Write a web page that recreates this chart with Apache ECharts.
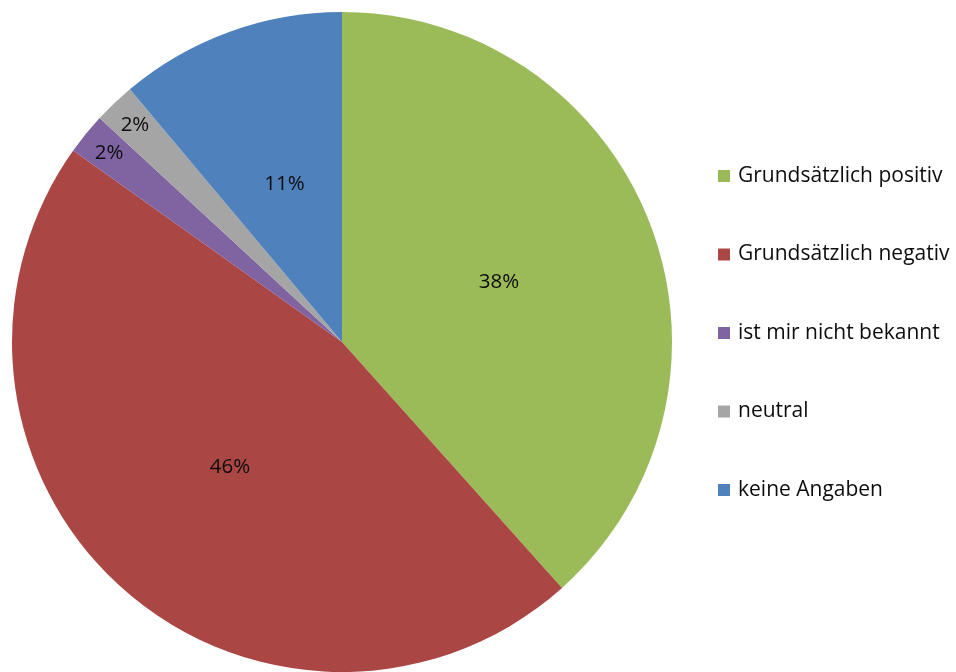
<!DOCTYPE html>
<html>
<head>
<meta charset="utf-8">
<script src="https://cdn.jsdelivr.net/npm/echarts@6/dist/echarts.min.js"></script>
<style>
  html, body { margin: 0; padding: 0; background: #ffffff; }
  #chart { width: 956px; height: 672px; }
</style>
</head>
<body>
<div id="chart"></div>
<script>
// Survey answers, in percent
const categories = [
  'Grundsätzlich positiv',
  'Grundsätzlich negativ',
  'ist mir nicht bekannt',
  'neutral',
  'keine Angaben'
];
const percentages = [38, 46, 2, 2, 11];
const sliceColors = ['#9BBB59', '#AA4643', '#8064A2', '#A5A5A5', '#4F81BD'];

// Slices too thin for a centred label get their label near the rim
const smallSliceLimit = 5;

const fontFamily = '"Open Sans", "Liberation Sans", sans-serif';

const pieData = categories.map((name, i) => ({
  name,
  value: percentages[i],
  itemStyle: { color: sliceColors[i] },
  label: { show: percentages[i] >= smallSliceLimit }
}));

const rimLabelData = categories.map((name, i) => ({
  name,
  value: percentages[i],
  label: { show: percentages[i] < smallSliceLimit }
}));

const labelStyle = {
  position: 'inside',
  formatter: '{c}%',
  fontFamily,
  fontSize: 20.5,
  color: '#0d0d0d',
  padding: [6, 0, 0, 0]
};

const chart = echarts.init(document.getElementById('chart'));
chart.setOption({
  animation: false,
  backgroundColor: '#ffffff',
  legend: {
    orient: 'vertical',
    left: 718,
    top: 165,
    padding: 0,
    itemWidth: 12,
    itemHeight: 12,
    itemGap: 56.5,
    icon: 'rect',
    data: categories,
    textStyle: { fontFamily, fontSize: 21, color: '#0d0d0d', lineHeight: 22, padding: [0, 0, 0, 3] }
  },
  series: [
    {
      type: 'pie',
      center: [342, 342],
      radius: [0, 330],
      startAngle: 90,
      clockwise: true,
      data: pieData,
      label: labelStyle,
      labelLine: { show: false },
      emphasis: { disabled: true }
    },
    {
      type: 'pie',
      center: [342, 342],
      radius: [264, 330],
      startAngle: 90,
      clockwise: true,
      silent: true,
      legendHoverLink: false,
      data: rimLabelData,
      itemStyle: { color: 'rgba(0,0,0,0)' },
      label: labelStyle,
      labelLine: { show: false },
      emphasis: { disabled: true }
    }
  ]
});
</script>
</body>
</html>
